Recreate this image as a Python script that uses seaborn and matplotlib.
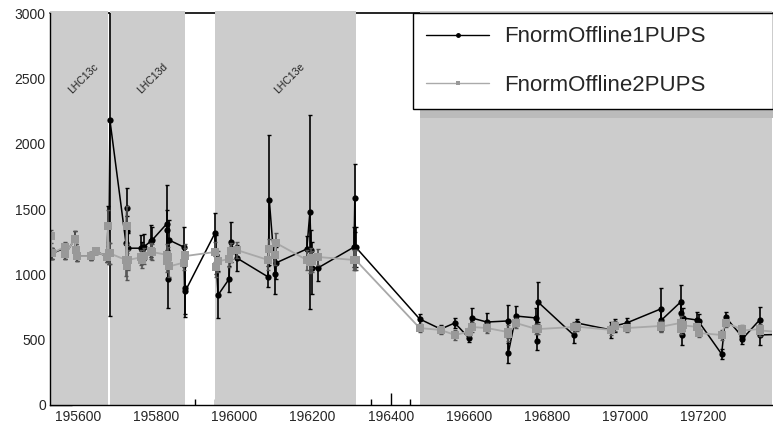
import numpy as np
import pandas as pd
import matplotlib

matplotlib.use('Agg')

import matplotlib.pyplot as plt
import seaborn as sns
from matplotlib.lines import Line2D
from matplotlib.patches import Rectangle
from matplotlib.ticker import MultipleLocator

sns.set_theme(style="white")
plt.rcParams['font.family'] = ['Liberation Sans', 'DejaVu Sans']

# run numbers and normalisation factors
runs = [195530, 195532, 195565, 195567, 195591, 195593, 195597, 195633, 195646, 195673,
        195676, 195678, 195681, 195722, 195724, 195726, 195728, 195760, 195764, 195768,
        195786, 195790, 195826, 195828, 195830, 195832, 195870, 195872, 195874, 195950,
        195952, 195958, 195986, 195990, 196006, 196086, 196089, 196104, 196106, 196185,
        196193, 196196, 196198, 196213, 196306, 196308, 196310, 196474, 196528, 196564,
        196600, 196607, 196646, 196699, 196701, 196720, 196773, 196775, 196777, 196868,
        196876, 196965, 196973, 197004, 197091, 197093, 197142, 197144, 197146, 197148,
        197185, 197188, 197247, 197257, 197298, 197300, 197344, 197346, 197390]

fnorm1 = [1160, 1160, 1200, 1155, 1270, 1185, 1140, 1140, 1178, 1133,
          1370, 1160, 2180, 1240, 1510, 1330, 1200, 1200, 1190, 1210,
          1255, 1265, 1385, 1339, 964, 1263, 1209, 895, 872, 1316,
          1150, 842, 964, 1247, 1125, 980, 1569, 1003, 1087, 1194,
          1477, 1186, 1050, 1048, 1209, 1584, 1209, 658, 581, 628,
          513, 666, 635, 643, 398, 681, 666, 490, 788, 536,
          628, 574, 605, 628, 735, 650, 788, 704, 536, 666,
          650, 640, 390, 673, 528, 505, 650, 536, 540]
fnorm1_err = [40, 40, 40, 40, 60, 50, 40, 30, 20, 40,
              150, 80, 1500, 150, 150, 120, 120, 100, 60, 100,
              120, 100, 300, 150, 220, 150, 150, 200, 200, 150,
              150, 180, 100, 150, 100, 80, 500, 150, 120, 100,
              740, 150, 200, 100, 150, 260, 150, 40, 30, 40,
              30, 80, 70, 120, 80, 80, 80, 70, 150, 60,
              30, 60, 50, 40, 160, 80, 130, 100, 80, 80,
              60, 60, 40, 40, 40, 40, 100, 80, 40]

fnorm2 = [1290, 1160, 1210, 1155, 1270, 1185, 1140, 1140, 1178, 1133,
          1370, 1160, 1160, 1110, 1370, 1060, 1110, 1130, 1110, 1140,
          1180, 1170, 1150, 1100, 1130, 1060, 1090, 1150, 1140, 1171,
          1056, 1100, 1117, 1178, 1186, 1110, 1194, 1150, 1240, 1110,
          1094, 1125, 1100, 1133, 1110, 1110, 1110, 589, 574, 536,
          560, 597, 589, 559, 540, 628, 581, 581, 581, 597,
          600, 574, 605, 589, 605, 600, 628, 581, 600, 610,
          597, 551, 536, 628, 581, 570, 581, 570, 560]
fnorm2_err = [50, 40, 40, 40, 60, 50, 40, 30, 20, 40,
              120, 80, 80, 120, 150, 100, 80, 60, 60, 60,
              60, 60, 80, 80, 80, 80, 60, 80, 60, 80,
              80, 80, 60, 60, 60, 80, 80, 80, 80, 80,
              80, 80, 80, 60, 80, 80, 80, 30, 30, 40,
              30, 40, 40, 50, 50, 40, 40, 40, 40, 40,
              30, 40, 40, 30, 40, 40, 50, 40, 40, 40,
              30, 30, 40, 30, 30, 30, 40, 40, 40]

# data-taking periods
periods = ["LHC13c", "LHC13d", "LHC13e", "LHC13f"]
period_start = [195400, 195680, 195950, 196474]
period_end = [195677, 195873, 196311, 197500]
period_label_x = [195612, 195789, 196142, None]

xmin, xmax = 195527.6, 197376

df = pd.DataFrame({'run': runs,
                   'FnormOffline1PUPS': fnorm1, 'err1': fnorm1_err,
                   'FnormOffline2PUPS': fnorm2, 'err2': fnorm2_err})

fig = plt.figure(figsize=(7.73, 4.26), dpi=100)
ax = fig.add_axes([50 / 773, 21 / 426, 722 / 773, 392 / 426])

# top frame line, hidden by the period boxes
ax.spines['top'].set_visible(False)
ax.axhline(3000, color='black', lw=1.2, zorder=0.5, clip_on=False)

for name, x0, x1, xl in zip(periods, period_start, period_end, period_label_x):
    ax.axvspan(max(x0, xmin), min(x1, xmax), ymin=0, ymax=1.006, color='#cccccc', lw=0,
               zorder=1, clip_on=False)
    if xl is not None:
        ax.text(xl, 2500, name, rotation=45, ha='center', va='center',
                fontsize=7.5, color='#222222', zorder=2)

# series 1 (black)
ax.errorbar(df['run'], df['FnormOffline1PUPS'], yerr=df['err1'], fmt='none',
            ecolor='black', elinewidth=1.2, capsize=1.5, capthick=1, zorder=3)
sns.lineplot(data=df, x='run', y='FnormOffline1PUPS', sort=False, estimator=None,
             color='black', lw=1.1, marker='o', markersize=4.5, markeredgewidth=0,
             ax=ax, zorder=4, legend=False)

# series 2 (grey)
ax.errorbar(df['run'], df['FnormOffline2PUPS'], yerr=df['err2'], fmt='none',
            ecolor='#555555', elinewidth=1.2, capsize=1.5, capthick=1, zorder=5)
sns.lineplot(data=df, x='run', y='FnormOffline2PUPS', sort=False, estimator=None,
             color='#a8a8a8', lw=1.3, marker='s', markersize=5.5, markeredgewidth=0,
             markerfacecolor='#999999', ax=ax, zorder=6, legend=False)

ax.set_xlim(xmin, xmax)
ax.set_ylim(0, 3000)
ax.set_xlabel('')
ax.set_ylabel('')

ax.xaxis.set_major_locator(MultipleLocator(200))
ax.xaxis.set_minor_locator(MultipleLocator(50))
ax.yaxis.set_major_locator(MultipleLocator(500))
ax.yaxis.set_minor_locator(MultipleLocator(100))
ax.tick_params(axis='x', which='major', direction='in', length=8.6, width=1,
               color='black', labelsize=10, pad=3.5, bottom=True)
ax.tick_params(axis='x', which='minor', direction='in', length=4.3, width=1,
               color='black', bottom=True)
ax.tick_params(axis='y', which='major', direction='in', length=15.6, width=1,
               color='black', labelsize=10, pad=3, left=True)
ax.tick_params(axis='y', which='minor', direction='in', length=8.4, width=1,
               color='black', left=True)
ax.ticklabel_format(useOffset=False, style='plain')

for side in ['left', 'bottom']:
    ax.spines[side].set_color('black')
    ax.spines[side].set_linewidth(1)
    ax.spines[side].set_zorder(7)
ax.spines['right'].set_visible(False)
ax.set_facecolor('white')

# legend with ROOT-like shadow
fig.patches.append(Rectangle((420 / 773, (426 - 118) / 426), 360 / 773, 98 / 426,
                             transform=fig.transFigure, facecolor='#bbbbbb',
                             edgecolor='none', zorder=8))
handles = [Line2D([], [], color='black', lw=1, marker='o', markersize=2.5),
           Line2D([], [], color='#aaaaaa', lw=1, marker='s', markersize=3,
                  markerfacecolor='#999999', markeredgewidth=0)]
leg = fig.legend(handles, ['FnormOffline1PUPS', 'FnormOffline2PUPS'],
                 loc='upper left', bbox_to_anchor=(413 / 773, 1 - 13 / 426, 360 / 773, 0),
                 mode='expand', fontsize=16, frameon=True, fancybox=False,
                 edgecolor='black', framealpha=1, handlelength=2.84, handletextpad=0.68,
                 borderpad=0.6, labelspacing=1.25, borderaxespad=0)
leg.get_frame().set_linewidth(1)
leg.set_zorder(10)

fig.savefig('out.png', dpi=100)
